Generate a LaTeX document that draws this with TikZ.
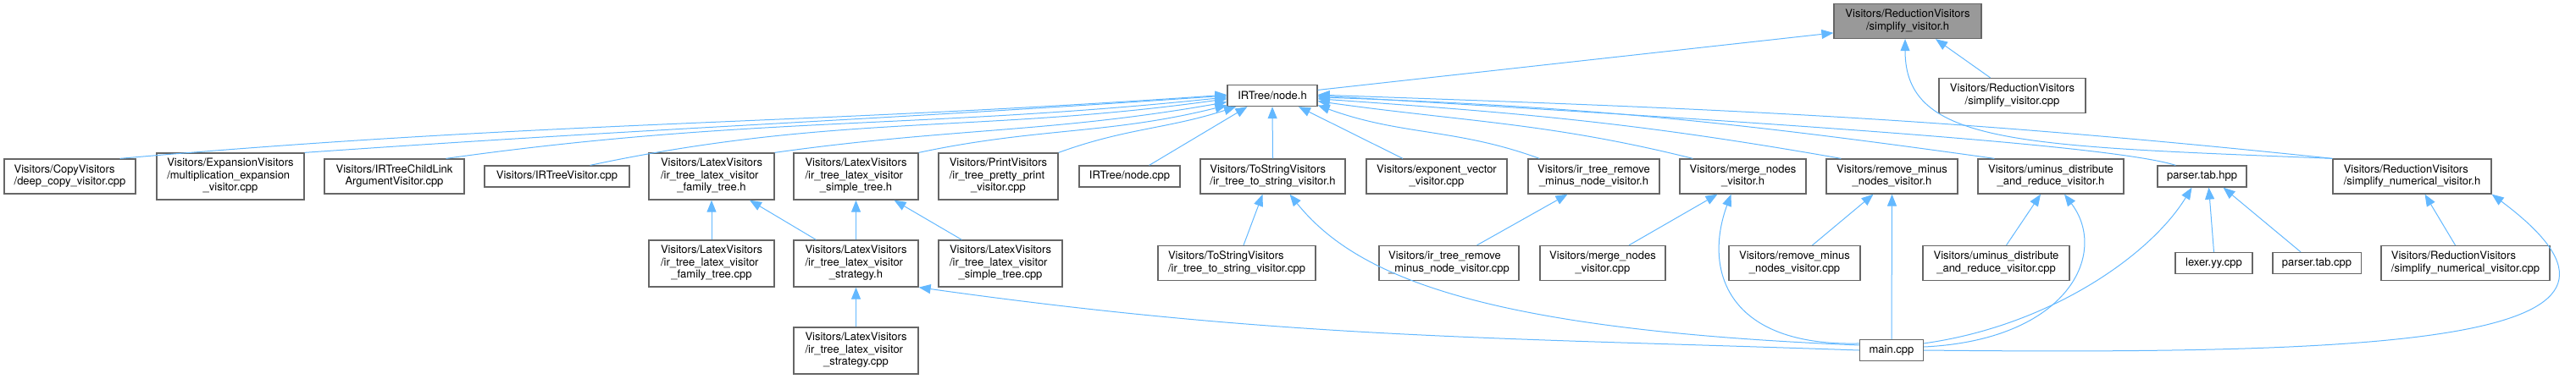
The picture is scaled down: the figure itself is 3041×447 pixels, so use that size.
\documentclass[tikz,border=0pt]{standalone}
\usepackage{fontspec}
\setmainfont{TeX Gyre Heros}
\usetikzlibrary{arrows.meta,calc}
\definecolor{EdgeBlue}{HTML}{63B8FF}
\definecolor{BoxLine}{HTML}{666666}
\definecolor{RootFill}{HTML}{999999}
\newcommand{\twoln}[2]{\begin{tabular}{@{}l@{}}#1\\\multicolumn{1}{@{}c@{}}{#2}\end{tabular}}
\newcommand{\threeln}[3]{\begin{tabular}{@{}l@{}}#1\\#2\\\multicolumn{1}{@{}c@{}}{#3}\end{tabular}}

\begin{document}
\begin{tikzpicture}[
  x=0.5pt,y=-0.5pt,
  file/.style={draw=BoxLine,line width=0.65pt,fill=white,inner xsep=5.5pt,inner ysep=0pt,
    font=\fontsize{6.5}{7.2}\selectfont},
  file1/.style={file,minimum height=12.5pt},
  file2/.style={file,minimum height=20.5pt},
  file3/.style={file,minimum height=27.5pt},
  root/.style={file2,fill=RootFill},
  dep/.style={EdgeBlue,line width=0.5pt,-{Triangle[length=7pt,width=5.5pt]}}
]
  \useasboundingbox (0,0) rectangle (3041,447);
  % top of the graph
  \node[root,minimum width=87pt] (svh) at (2252,25) {\twoln{Visitors/ReductionVisitors}{/simplify\_visitor.h}};
  \node[file1,minimum width=53pt] (nodeh) at (1502,113) {IRTree/node.h};
  \node[file2,minimum width=86.5pt] (svcpp) at (2375.5,113) {\twoln{Visitors/ReductionVisitors}{/simplify\_visitor.cpp}};
  % first row
  \node[file2,minimum width=77.5pt] (deepcopy) at (82.5,208.5) {\twoln{Visitors/CopyVisitors}{/deep\_copy\_visitor.cpp}};
  \node[file3,minimum width=87pt] (multexp) at (272,208.5) {\threeln{Visitors/ExpansionVisitors}{/multiplication\_expansion}{\_visitor.cpp}};
  \node[file2,minimum width=82.5pt] (childlink) at (465.5,208.5) {\twoln{Visitors/IRTreeChildLink}{ArgumentVisitor.cpp}};
  \node[file1,minimum width=85.5pt] (irvisitor) at (657.5,208.5) {Visitors/IRTreeVisitor.cpp};
  \node[file3,minimum width=74pt] (famh) at (840,208.5) {\threeln{Visitors/LatexVisitors}{/ir\_tree\_latex\_visitor}{\_family\_tree.h}};
  \node[file3,minimum width=73.5pt] (simph) at (1010.5,208.5) {\threeln{Visitors/LatexVisitors}{/ir\_tree\_latex\_visitor}{\_simple\_tree.h}};
  \node[file3,minimum width=70.5pt] (pretty) at (1178.5,208.5) {\threeln{Visitors/PrintVisitors}{/ir\_tree\_pretty\_print}{\_visitor.cpp}};
  \node[file1,minimum width=59.5pt] (nodecpp) at (1333.5,208.5) {IRTree/node.cpp};
  \node[file2,minimum width=85.5pt] (tostrh) at (1502.5,208.5) {\twoln{Visitors/ToStringVisitors}{/ir\_tree\_to\_string\_visitor.h}};
  \node[file2,minimum width=83pt] (expvec) at (1696,208.5) {\twoln{Visitors/exponent\_vector}{\_visitor.cpp}};
  \node[file2,minimum width=77.5pt] (rmminh) at (1881.5,208.5) {\twoln{Visitors/ir\_tree\_remove}{\_minus\_node\_visitor.h}};
  \node[file2,minimum width=74.5pt] (mergeh) at (2057.5,208.5) {\twoln{Visitors/merge\_nodes}{\_visitor.h}};
  \node[file2,minimum width=77.5pt] (rmnodesh) at (2233.5,208.5) {\twoln{Visitors/remove\_minus}{\_nodes\_visitor.h}};
  \node[file2,minimum width=86pt] (uminush) at (2421,208.5) {\twoln{Visitors/uminus\_distribute}{\_and\_reduce\_visitor.h}};
  \node[file1,minimum width=52.5pt] (parserhpp) at (2599.5,208.5) {parser.tab.hpp};
  \node[file2,minimum width=93.5pt] (simpnumh) at (2847.5,208.5) {\twoln{Visitors/ReductionVisitors}{/simplify\_numerical\_visitor.h}};
  % second row
  \node[file3,minimum width=74pt] (famcpp) at (840,311.5) {\threeln{Visitors/LatexVisitors}{/ir\_tree\_latex\_visitor}{\_family\_tree.cpp}};
  \node[file3,minimum width=73.5pt] (strath) at (1010.5,311.5) {\threeln{Visitors/LatexVisitors}{/ir\_tree\_latex\_visitor}{\_strategy.h}};
  \node[file3,minimum width=73pt] (simpcpp) at (1181,311.5) {\threeln{Visitors/LatexVisitors}{/ir\_tree\_latex\_visitor}{\_simple\_tree.cpp}};
  \node[file2,minimum width=93pt] (tostrcpp) at (1460,311) {\twoln{Visitors/ToStringVisitors}{/ir\_tree\_to\_string\_visitor.cpp}};
  \node[file2,minimum width=82.5pt] (rmmincpp) at (1710.5,311) {\twoln{Visitors/ir\_tree\_remove}{\_minus\_node\_visitor.cpp}};
  \node[file2,minimum width=74pt] (mergecpp) at (1892,311) {\twoln{Visitors/merge\_nodes}{\_visitor.cpp}};
  \node[file2,minimum width=77.5pt] (rmnodescpp) at (2118.5,311) {\twoln{Visitors/remove\_minus}{\_nodes\_visitor.cpp}};
  \node[file2,minimum width=86.5pt] (uminuscpp) at (2356.5,311) {\twoln{Visitors/uminus\_distribute}{\_and\_reduce\_visitor.cpp}};
  \node[file1,minimum width=45.5pt] (lexer) at (2613.5,311) {lexer.yy.cpp};
  \node[file1,minimum width=52pt] (parsercpp) at (2735,311) {parser.tab.cpp};
  \node[file2,minimum width=99.5pt] (simpnumcpp) at (2910.5,311) {\twoln{Visitors/ReductionVisitors}{/simplify\_numerical\_visitor.cpp}};
  % third row
  \node[file3,minimum width=73.5pt] (stratcpp) at (1010.5,414.5) {\threeln{Visitors/LatexVisitors}{/ir\_tree\_latex\_visitor}{\_strategy.cpp}};
  \node[file1,minimum width=37pt] (maincpp) at (2233,414) {main.cpp};

  % edges into the root
  \draw[dep] (nodeh.7) -- (svh.189);
  \draw[dep] ($(svcpp.north)+(-26,0)$) -- ($(svh.south)+(33,0)$);
  \draw[dep] (simpnumh.north west) .. controls +(-370,-15) and +(0,125) .. ($(svh.south)+(-3,0)$);
  % edges into node.h
  \draw[dep] ($(deepcopy.north east)+(-19,0)$) to[out=5,in=184] (nodeh.179);
  \draw[dep] (multexp.north east) to[out=4,in=184] (nodeh.180);
  \draw[dep] ($(childlink.north east)+(-22,0)$) to[out=8,in=186] (nodeh.182);
  \draw[dep] ($(irvisitor.north east)+(-47,0)$) to[out=12,in=188] (nodeh.184);
  \draw[dep] (famh.north east) to[out=8,in=190] (nodeh.188);
  \draw[dep] (simph.north east) to[out=12,in=194] (nodeh.192);
  \draw[dep] (pretty.north east) to[out=20,in=198] (nodeh.197);
  \draw[dep] ($(nodecpp.north east)+(-37,0)$) -- (nodeh.204);
  \draw[dep] (tostrh.north) -- (nodeh.south);
  \draw[dep] ($(expvec.north)+(-40,0)$) -- (nodeh.-23);
  \draw[dep] ($(rmminh.north west)+(14,0)$) to[out=160,in=-20] (nodeh.-12);
  \draw[dep] ($(mergeh.north west)+(16,0)$) to[out=166,in=-8] (nodeh.-7);
  \draw[dep] ($(rmnodesh.north west)+(18,0)$) to[out=170,in=-4] (nodeh.-4);
  \draw[dep] ($(uminush.north west)+(20,0)$) to[out=172,in=-2] (nodeh.-2);
  \draw[dep] ($(parserhpp.north west)+(22,0)$) .. controls +(-80,-25) and +(500,30) .. (nodeh.0);
  \draw[dep] (simpnumh.north west) to[out=174,in=-2] (nodeh.1);
  % second and third row
  \draw[dep] (famcpp.north) -- (famh.south);
  \draw[dep] ($(strath.north west)+(27,0)$) -- ($(famh.south)+(45,0)$);
  \draw[dep] (strath.north) -- (simph.south);
  \draw[dep] ($(simpcpp.north west)+(28,0)$) -- ($(simph.south)+(45,0)$);
  \draw[dep] (stratcpp.north) -- (strath.south);
  \draw[dep] ($(tostrcpp.north)+(8,0)$) -- ($(tostrh.south)+(-12,0)$);
  \draw[dep] ($(rmmincpp.north)+(33,0)$) -- ($(rmminh.south)+(-31,0)$);
  \draw[dep] ($(mergecpp.north)+(31,0)$) -- ($(mergeh.south)+(-30,0)$);
  \draw[dep] ($(rmnodescpp.north)+(21,0)$) -- ($(rmnodesh.south)+(-22,0)$);
  \draw[dep] ($(uminuscpp.north)+(12,0)$) -- ($(uminush.south)+(-12,0)$);
  \draw[dep] (lexer.north) -- ($(parserhpp.south)+(8,0)$);
  \draw[dep] ($(parsercpp.north)+(-19,0)$) -- ($(parserhpp.south)+(25,0)$);
  \draw[dep] ($(simpnumcpp.north)+(-12,0)$) -- ($(simpnumh.south)+(15,0)$);
  % main.cpp
  \draw[dep] (maincpp.west) to[out=178,in=-8] (strath.south east);
  \draw[dep] (maincpp.171) .. controls +(-446,-18) and +(78,97) .. ($(tostrh.south)+(20,0)$);
  \draw[dep] (maincpp.168) .. controls +(-156,4) and +(-33,90) .. ($(mergeh.south)+(-14,0)$);
  \draw[dep] (maincpp.north) -- (rmnodesh.south);
  \draw[dep] (maincpp.6) .. controls +(170,-8) and +(53,70) .. ($(uminush.south)+(16,0)$);
  \draw[dep] (maincpp.12) .. controls +(150,-21) and +(-48,79) .. ($(parserhpp.south)+(-12,0)$);
  \draw[dep] (maincpp.east) .. controls +(580,6) and +(229,171) .. (simpnumh.south east);
\end{tikzpicture}
\end{document}
